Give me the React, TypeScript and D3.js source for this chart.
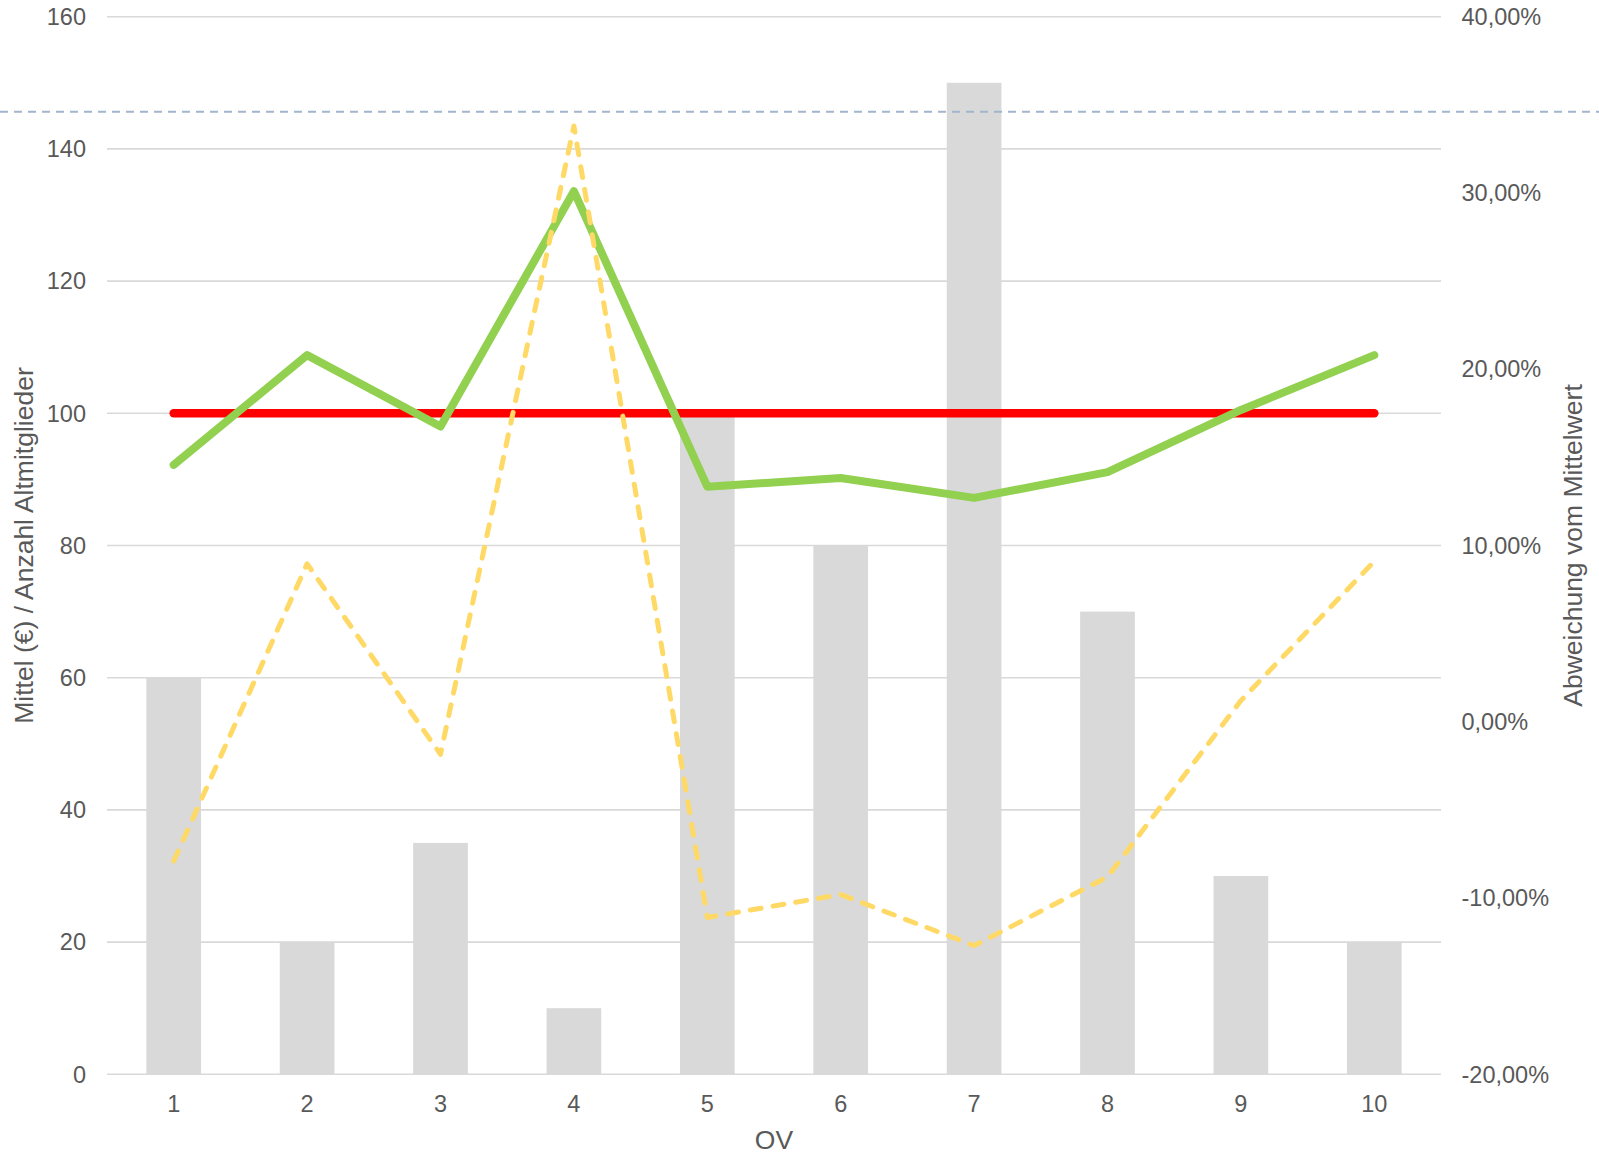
import React from 'react';
import * as d3 from 'd3';

// OV categories and series
const categories = ['1', '2', '3', '4', '5', '6', '7', '8', '9', '10'];
const memberCounts = [60, 20, 35, 10, 100, 80, 150, 70, 30, 20];
const meanValues = [92.2, 108.8, 98.0, 133.6, 88.9, 90.2, 87.2, 91.1, 100.5, 108.8];
const overallMean = [100, 100, 100, 100, 100, 100, 100, 100, 100, 100];
const deviations = [-0.079, 0.0896, -0.0185, 0.338, -0.111, -0.098, -0.127, -0.088, 0.012, 0.091];

const leftTicks = [0, 20, 40, 60, 80, 100, 120, 140, 160];
const rightTicks = [-0.2, -0.1, 0, 0.1, 0.2, 0.3, 0.4];

const W = 1599;
const H = 1156;
const margin = { top: 16.7, right: 158, bottom: 81.7, left: 107 };
const FONT = '"Liberation Sans", Arial, sans-serif';
const TEXT = '#595959';
const TICK_SIZE = 23.5;
const TITLE_SIZE = 26.5;

const pctFormat = (v: number) => (v * 100).toFixed(2).replace('.', ',') + '%';

export default function App() {
  const x0 = margin.left;
  const x1 = W - margin.right;
  const y0 = H - margin.bottom;
  const y1 = margin.top;

  const xScale = d3.scaleBand<string>()
    .domain(categories)
    .range([x0, x1])
    .paddingInner(0.59)
    .paddingOuter(0.295);

  const yLeft = d3.scaleLinear().domain([0, 160]).range([y0, y1]);
  const yRight = d3.scaleLinear().domain([-0.2, 0.4]).range([y0, y1]);

  const cx = (i: number) => (xScale(categories[i]) ?? 0) + xScale.bandwidth() / 2;

  const leftLine = d3.line<number>().x((_, i) => cx(i)).y(d => yLeft(d));
  const rightLine = d3.line<number>().x((_, i) => cx(i)).y(d => yRight(d));

  const midY = (y0 + y1) / 2;

  return (
    <svg
      width={W}
      height={H}
      style={{ position: 'absolute', left: 0, top: 0, background: '#fff', fontFamily: FONT }}
    >
      {/* gridlines */}
      {leftTicks.map(t => (
        <line key={'g' + t} x1={x0} x2={x1} y1={yLeft(t)} y2={yLeft(t)} stroke="#d9d9d9" strokeWidth={1.6} />
      ))}

      {/* bars: Anzahl Altmitglieder */}
      {memberCounts.map((v, i) => (
        <rect
          key={'b' + i}
          x={xScale(categories[i])}
          y={yLeft(v)}
          width={xScale.bandwidth()}
          height={yLeft(0) - yLeft(v)}
          fill="#d9d9d9"
        />
      ))}

      {/* overall mean */}
      <path d={leftLine(overallMean) ?? ''} fill="none" stroke="#ff0000" strokeWidth={8.5} strokeLinecap="round" />

      {/* mean per OV */}
      <path d={leftLine(meanValues) ?? ''} fill="none" stroke="#92d050" strokeWidth={8} strokeLinecap="round" strokeLinejoin="round" />

      {/* deviation from mean (right axis) */}
      <path
        d={rightLine(deviations) ?? ''}
        fill="none"
        stroke="#ffd966"
        strokeWidth={5}
        strokeLinecap="round"
        strokeLinejoin="round"
        strokeDasharray="11 12"
      />

      {/* left axis labels */}
      {leftTicks.map(t => (
        <text key={'l' + t} x={86} y={yLeft(t)} dy="0.35em" textAnchor="end" fontSize={TICK_SIZE} fill={TEXT}>
          {t}
        </text>
      ))}

      {/* right axis labels */}
      {rightTicks.map(t => (
        <text key={'r' + t} x={1461.5} y={yRight(t)} dy="0.35em" textAnchor="start" fontSize={TICK_SIZE} fill={TEXT}>
          {pctFormat(t)}
        </text>
      ))}

      {/* x axis labels */}
      {categories.map((c, i) => (
        <text key={'x' + c} x={cx(i)} y={1103.5} dy="0.35em" textAnchor="middle" fontSize={TICK_SIZE} fill={TEXT}>
          {c}
        </text>
      ))}

      {/* axis titles */}
      <text x={(x0 + x1) / 2} y={1140} dy="0.35em" textAnchor="middle" fontSize={TITLE_SIZE} fill={TEXT}>
        OV
      </text>
      <text transform={`translate(33,${midY}) rotate(-90)`} textAnchor="middle" fontSize={TITLE_SIZE} fill={TEXT}>
        Mittel (€) / Anzahl Altmitglieder
      </text>
      <text transform={`translate(1582,${midY}) rotate(-90)`} textAnchor="middle" fontSize={TITLE_SIZE} fill={TEXT}>
        Abweichung vom Mittelwert
      </text>

      {/* dashed page guide */}
      <line x1={0} x2={W} y1={111.7} y2={111.7} stroke="#9fb6cc" strokeWidth={2} strokeDasharray="8 6" />
    </svg>
  );
}
